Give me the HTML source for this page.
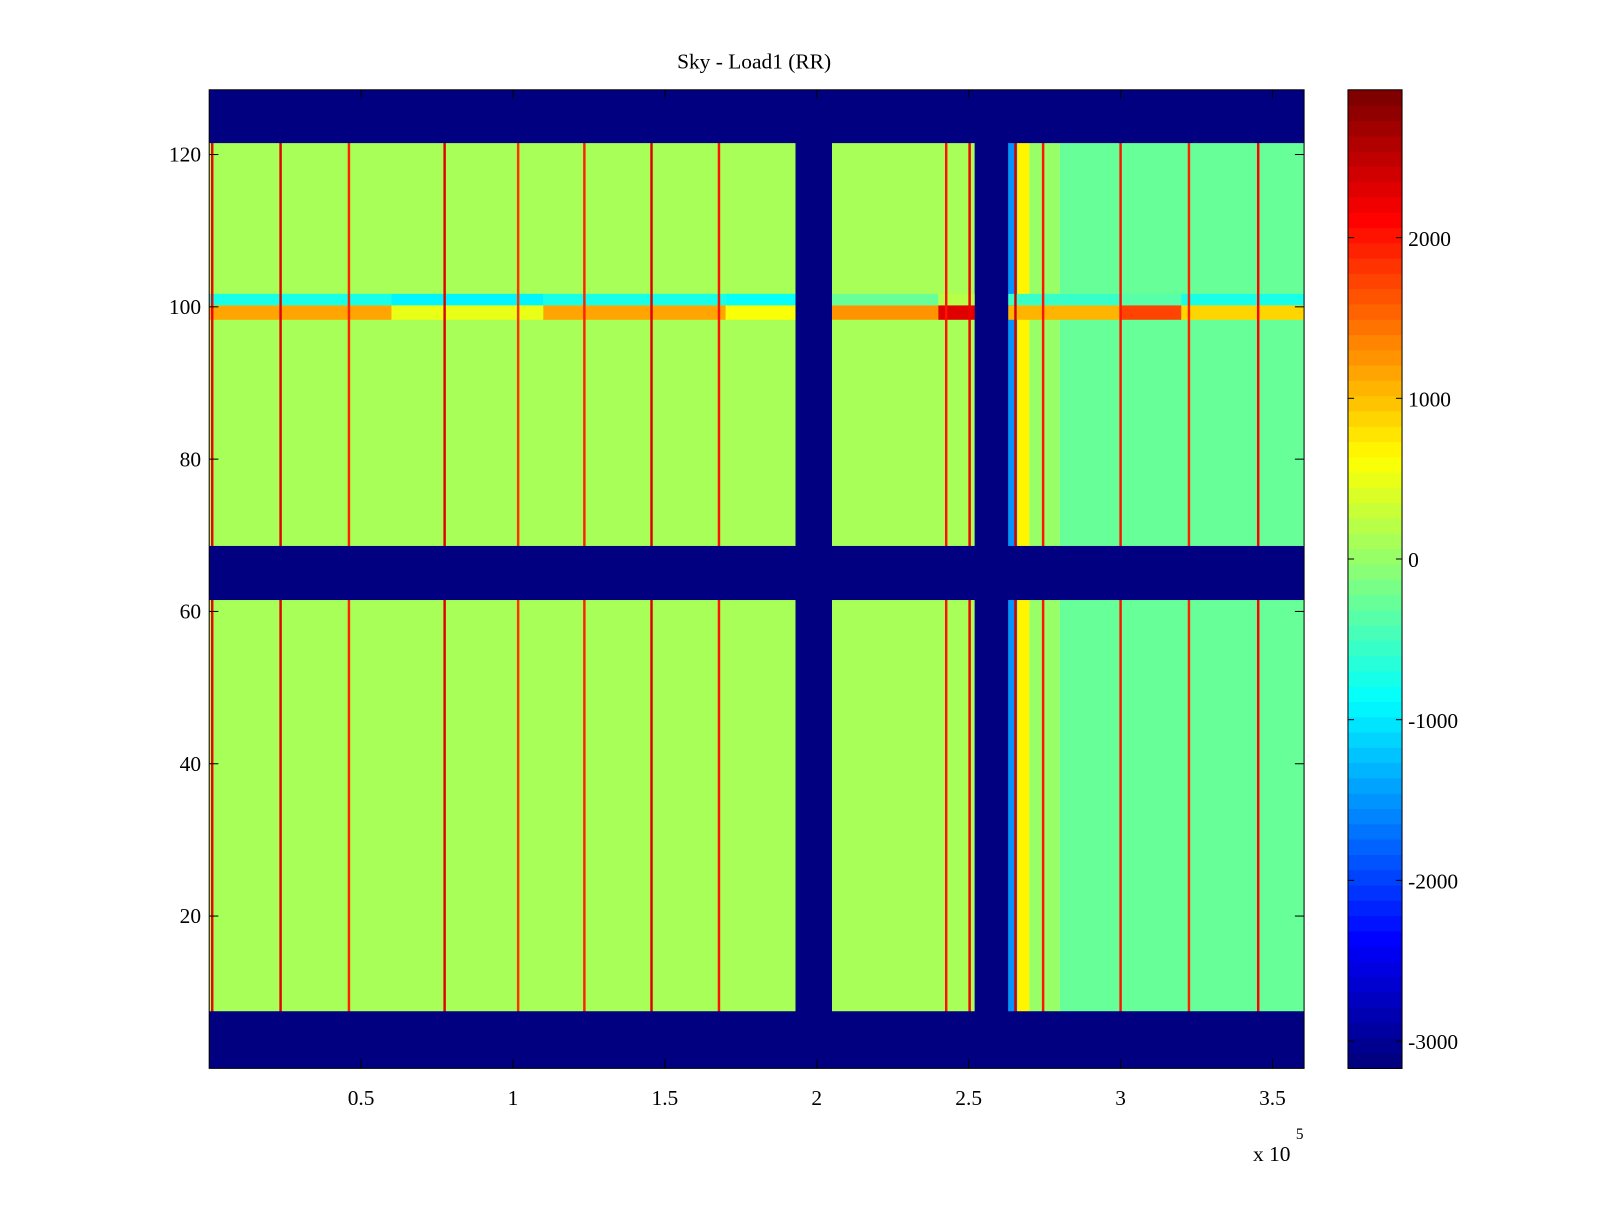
<!DOCTYPE html>
<html><head><meta charset="utf-8"><style>
html,body{margin:0;padding:0;background:#fff;}
svg text{font-family:"Liberation Serif",serif;font-size:21px;fill:#000;}
</style></head><body>
<svg id="chart" width="1600" height="1200" viewBox="0 0 1568 1176" preserveAspectRatio="none" xmlns="http://www.w3.org/2000/svg">
<rect width="1568" height="1176" fill="#fff"/>
<text x="739" y="67" text-anchor="middle">Sky - Load1 (RR)</text>
<g id="plot"></g>
<g id="axes"></g>
<g id="cbar"></g>
<text x="1228" y="1138">x 10</text>
<text x="1270" y="1116" style="font-size:15px">5</text>
</svg>
<script>
// ---- data ----
const bgSegX = [0, 193000, 205000, 252000, 263000, 266000, 270000, 280000, 360400];
const bgVal = [80, -3100, 150, -3100, -1500, 700, 50, -250];
const lineX = [1000, 23500, 46000, 77500, 101700, 123500, 145600, 167800, 242600, 250300, 265400, 274500, 300000, 322500, 345300];
const lineVal = [2200, 2300, 1900, 2300, 1800, 1900, 2300, 2000, 2000, 2200, 2400, 2000, 2000, 1900, 2100];
const maskRowsY0 = [0, 61.5, 121.5];
const maskRowsY1 = [7.5, 68.6, 128.5];
const streakLowY = [98.3, 100.2];
const streakHighY = [100.2, 101.7];
const streakSegX = [0, 60000, 110000, 170000, 205000, 240000, 263000, 300000, 320000, 360400];
const streakLowVal = [1200, 500, 1200, 600, 1300, 2300, 1100, 1700, 900];
const streakHighVal = [-700, -900, -700, -800, -300, 200, -600, -400, -700];
const xTicks = [50000, 100000, 150000, 200000, 250000, 300000, 350000];
const xTickLabels = ["0.5", "1", "1.5", "2", "2.5", "3", "3.5"];
const yTicks = [20, 40, 60, 80, 100, 120];
const cTicks = [2000, 1000, 0, -1000, -2000, -3000];
const cMin = -3170, cMax = 2920;

// ---- scales ----
const L = 205, R = 1278, T = 88, B = 1047;
const xMin = 0, xMax = 360400, yMin = 0, yMax = 128.5;
const xs = v => L + (v - xMin) / (xMax - xMin) * (R - L);
const ys = v => B - (v - yMin) / (yMax - yMin) * (B - T);
function jet(v) {
  let t = (v - cMin) / (cMax - cMin); t = Math.max(0, Math.min(1, t));
  t = Math.floor(t * 64) / 63; t = Math.min(1, t);
  const f = x => Math.max(0, Math.min(1, x));
  const r = f(Math.min(4 * t - 1.5, -4 * t + 4.5));
  const g = f(Math.min(4 * t - 0.5, -4 * t + 3.5));
  const b = f(Math.min(4 * t + 0.5, -4 * t + 2.5));
  return `rgb(${Math.round(r * 255)},${Math.round(g * 255)},${Math.round(b * 255)})`;
}
const NS = "http://www.w3.org/2000/svg";
function mk(tag, attrs, parent) {
  const e = document.createElementNS(NS, tag);
  for (const k in attrs) e.setAttribute(k, attrs[k]);
  parent.appendChild(e); return e;
}
const plot = document.getElementById("plot");
for (let i = 0; i < bgVal.length; i++) {
  const r = mk("rect", {x: xs(bgSegX[i]), y: T, width: xs(bgSegX[i + 1]) - xs(bgSegX[i]), height: B - T, fill: jet(bgVal[i])}, plot);
  
  
}
for (let i = 0; i < streakLowVal.length; i++) {
  const w = xs(streakSegX[i + 1]) - xs(streakSegX[i]);
  const a = mk("rect", {x: xs(streakSegX[i]), y: ys(streakLowY[1]), width: w, height: ys(streakLowY[0]) - ys(streakLowY[1]), fill: jet(streakLowVal[i])}, plot);
  
  
  const b = mk("rect", {x: xs(streakSegX[i]), y: ys(streakHighY[1]), width: w, height: ys(streakHighY[0]) - ys(streakHighY[1]), fill: jet(streakHighVal[i])}, plot);
  
  
}
for (let i = 0; i < bgVal.length; i++) {
  if (bgVal[i] > -2000) continue;
  const r = mk("rect", {x: xs(bgSegX[i]), y: T, width: xs(bgSegX[i + 1]) - xs(bgSegX[i]), height: B - T, fill: jet(bgVal[i])}, plot);
  
  
}
for (let i = 0; i < lineX.length; i++) {
  const r = mk("rect", {x: xs(lineX[i]) - 1.2, y: T, width: 2.4, height: B - T, fill: jet(lineVal[i])}, plot);
  
  
}
for (let i = 0; i < maskRowsY0.length; i++) {
  const r = mk("rect", {x: L, y: ys(maskRowsY1[i]), width: R - L, height: ys(maskRowsY0[i]) - ys(maskRowsY1[i]), fill: jet(-3170)}, plot);
  
  
}
const ax = document.getElementById("axes");
mk("rect", {x: L, y: T, width: R - L, height: B - T, fill: "none", stroke: "#000", "stroke-width": 1}, ax);
xTicks.forEach((v, i) => {
  const x = xs(v);
  mk("line", {x1: x, y1: B, x2: x, y2: B - 9, stroke: "#000"}, ax);
  mk("line", {x1: x, y1: T, x2: x, y2: T + 9, stroke: "#000"}, ax);
  const t = mk("text", {x: x, y: B + 36, "text-anchor": "middle"}, ax);
  t.textContent = xTickLabels[i];
  
  
});
yTicks.forEach(v => {
  const y = ys(v);
  mk("line", {x1: L, y1: y, x2: L + 9, y2: y, stroke: "#000"}, ax);
  mk("line", {x1: R, y1: y, x2: R - 9, y2: y, stroke: "#000"}, ax);
  const t = mk("text", {x: L - 8, y: y + 7, "text-anchor": "end"}, ax);
  t.textContent = v;
  
  
});
const cb = document.getElementById("cbar");
const CL = 1321, CR = 1374, CT = 88, CB = 1047;
const cs = v => CB - (v - cMin) / (cMax - cMin) * (CB - CT);
for (let k = 0; k < 64; k++) {
  const v0 = cMin + k * (cMax - cMin) / 64, v1 = cMin + (k + 1) * (cMax - cMin) / 64;
  const r = mk("rect", {x: CL, y: cs(v1), width: CR - CL, height: cs(v0) - cs(v1) + 0.6, fill: jet((v0 + v1) / 2)}, cb);
  
  
}
mk("rect", {x: CL, y: CT, width: CR - CL, height: CB - CT, fill: "none", stroke: "#000"}, cb);
cTicks.forEach(v => {
  const y = cs(v);
  mk("line", {x1: CL, y1: y, x2: CL + 6, y2: y, stroke: "#000"}, cb);
  mk("line", {x1: CR, y1: y, x2: CR - 6, y2: y, stroke: "#000"}, cb);
  const t = mk("text", {x: CR + 6, y: y + 8}, cb);
  t.textContent = v;
  
  
});
</script>
</body></html>
